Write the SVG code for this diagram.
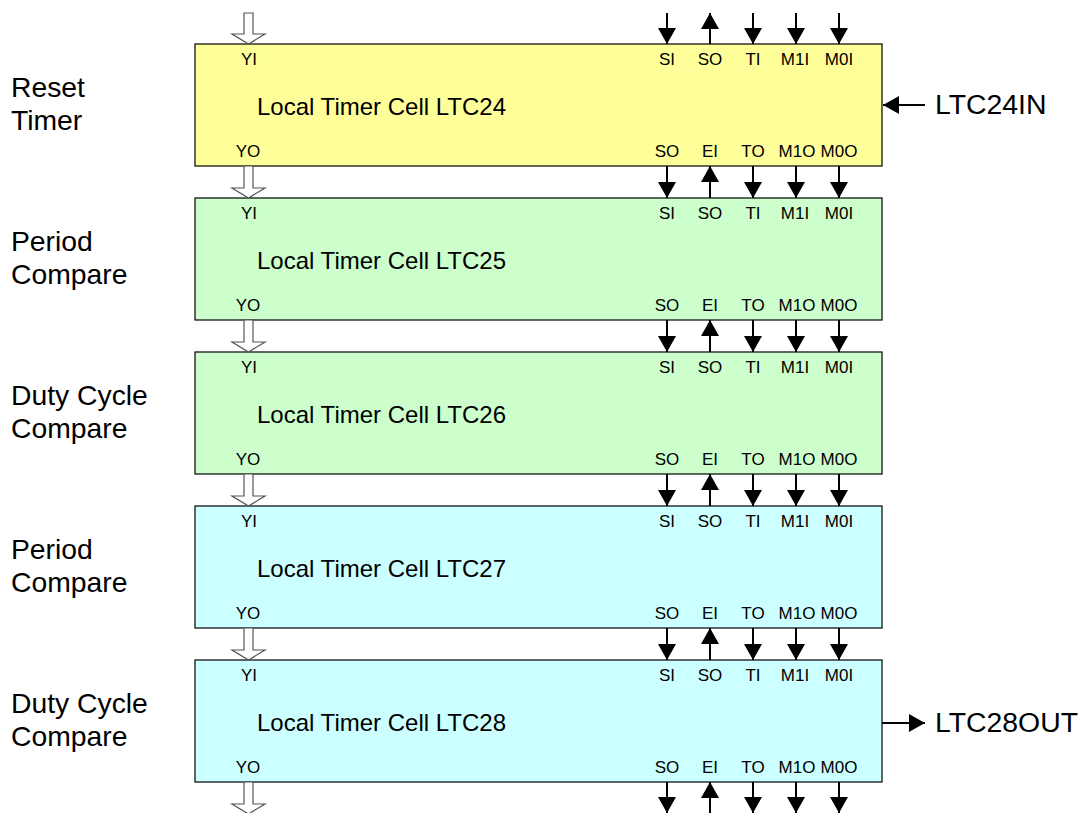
<svg xmlns="http://www.w3.org/2000/svg" width="1086" height="813" viewBox="0 0 1086 813">
<style>
text{font-family:"Liberation Sans",Arial,sans-serif;fill:#000}
.box{stroke:#000;stroke-width:1.2}
.y{fill:#FFFF99}.g{fill:#CCFFCC}.c{fill:#CCFFFF}
.pin{font-size:17px;text-anchor:middle}
.title{font-size:24px}
.side{font-size:28.3px}
.ext{font-size:28.4px}
.hollow{fill:#fff;stroke:#555;stroke-width:1.2}
.sig{stroke:#000;stroke-width:2;fill:none;marker-end:url(#ah)}
</style>
<defs>
<marker id="ah" markerUnits="userSpaceOnUse" markerWidth="16" markerHeight="18" refX="16" refY="9" orient="auto" viewBox="0 0 16 18">
<path d="M0,0 L16,9 L0,18 z" fill="#000"/>
</marker>
<g id="pinsTop">
<text class="pin" x="249" y="0">YI</text>
<text class="pin" x="667" y="0">SI</text>
<text class="pin" x="710" y="0">SO</text>
<text class="pin" x="753" y="0">TI</text>
<text class="pin" x="795" y="0">M1I</text>
<text class="pin" x="839" y="0">M0I</text>
</g>
<g id="pinsBot">
<text class="pin" x="248" y="0">YO</text>
<text class="pin" x="667" y="0">SO</text>
<text class="pin" x="710" y="0">EI</text>
<text class="pin" x="753" y="0">TO</text>
<text class="pin" x="797" y="0">M1O</text>
<text class="pin" x="839" y="0">M0O</text>
</g>
</defs>

<g id="ltc24">
<rect class="box y" x="195" y="44" width="687" height="122"/>
<use href="#pinsTop" y="65"/>
<use href="#pinsBot" y="157"/>
<text class="title" x="257" y="115">Local Timer Cell LTC24</text>
<text class="side" x="11" y="97">Reset</text>
<text class="side" x="11" y="130">Timer</text>
</g>
<g id="ltc25">
<rect class="box g" x="195" y="198" width="687" height="122"/>
<use href="#pinsTop" y="219"/>
<use href="#pinsBot" y="311"/>
<text class="title" x="257" y="269">Local Timer Cell LTC25</text>
<text class="side" x="11" y="251">Period</text>
<text class="side" x="11" y="284">Compare</text>
</g>
<g id="ltc26">
<rect class="box g" x="195" y="352" width="687" height="122"/>
<use href="#pinsTop" y="373"/>
<use href="#pinsBot" y="465"/>
<text class="title" x="257" y="423">Local Timer Cell LTC26</text>
<text class="side" x="11" y="405">Duty Cycle</text>
<text class="side" x="11" y="438">Compare</text>
</g>
<g id="ltc27">
<rect class="box c" x="195" y="506" width="687" height="122"/>
<use href="#pinsTop" y="527"/>
<use href="#pinsBot" y="619"/>
<text class="title" x="257" y="577">Local Timer Cell LTC27</text>
<text class="side" x="11" y="559">Period</text>
<text class="side" x="11" y="592">Compare</text>
</g>
<g id="ltc28">
<rect class="box c" x="195" y="660" width="687" height="122"/>
<use href="#pinsTop" y="681"/>
<use href="#pinsBot" y="773"/>
<text class="title" x="257" y="731">Local Timer Cell LTC28</text>
<text class="side" x="11" y="713">Duty Cycle</text>
<text class="side" x="11" y="746">Compare</text>
</g>
<g id="ltc24in">
<text class="ext" x="935" y="114">LTC24IN</text>
</g>
<g id="ltc28out">
<text class="ext" x="935" y="732">LTC28OUT</text>
</g>

<g id="connectors">
<polygon class="hollow" points="244,13 253,13 253,34 265,34 248.5,44 232,34 244,34"/>
<polygon class="hollow" points="244,166 253,166 253,188 265,188 248.5,198 232,188 244,188"/>
<polygon class="hollow" points="244,320 253,320 253,342 265,342 248.5,352 232,342 244,342"/>
<polygon class="hollow" points="244,474 253,474 253,496 265,496 248.5,506 232,496 244,496"/>
<polygon class="hollow" points="244,628 253,628 253,650 265,650 248.5,660 232,650 244,650"/>
<polygon class="hollow" points="244,782 253,782 253,804 265,804 248.5,814 232,804 244,804"/>

<path class="sig" d="M667,13V44"/><path class="sig" d="M710,44V13"/><path class="sig" d="M753,13V44"/><path class="sig" d="M796,13V44"/><path class="sig" d="M839,13V44"/>
<path class="sig" d="M667,166V198"/><path class="sig" d="M710,198V166"/><path class="sig" d="M753,166V198"/><path class="sig" d="M796,166V198"/><path class="sig" d="M839,166V198"/>
<path class="sig" d="M667,320V352"/><path class="sig" d="M710,352V320"/><path class="sig" d="M753,320V352"/><path class="sig" d="M796,320V352"/><path class="sig" d="M839,320V352"/>
<path class="sig" d="M667,474V506"/><path class="sig" d="M710,506V474"/><path class="sig" d="M753,474V506"/><path class="sig" d="M796,474V506"/><path class="sig" d="M839,474V506"/>
<path class="sig" d="M667,628V660"/><path class="sig" d="M710,660V628"/><path class="sig" d="M753,628V660"/><path class="sig" d="M796,628V660"/><path class="sig" d="M839,628V660"/>
<path class="sig" d="M667,782V813"/><path class="sig" d="M710,813V782"/><path class="sig" d="M753,782V813"/><path class="sig" d="M796,782V813"/><path class="sig" d="M839,782V813"/>

<path class="sig" d="M925,105H883"/>
<path class="sig" d="M882,723H925"/>
</g>
</svg>
